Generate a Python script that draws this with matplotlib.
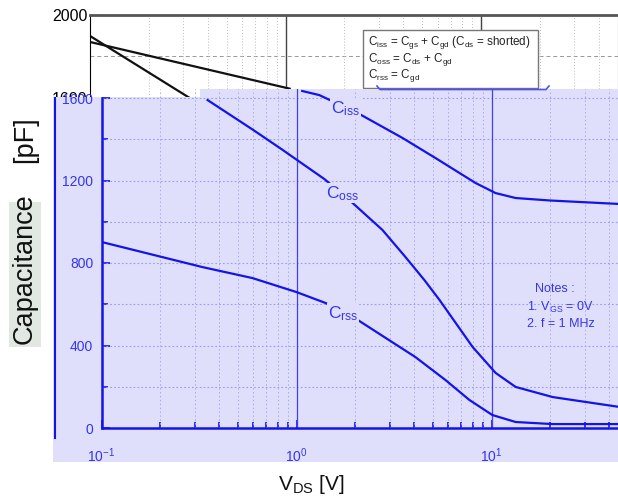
import numpy as np
import matplotlib
matplotlib.use("Agg")
import matplotlib.pyplot as plt
from matplotlib.patches import Rectangle
from matplotlib.lines import Line2D

plt.rcParams['font.family'] = ['Liberation Sans', 'DejaVu Sans']
plt.rcParams['mathtext.fontset'] = 'custom'
plt.rcParams['mathtext.rm'] = 'Liberation Sans'
plt.rcParams['mathtext.it'] = 'Liberation Sans'
plt.rcParams['mathtext.default'] = 'regular'

# black (original) part of the chart, only the top strip is visible
black_v_iss = [0.1, 1.05]
black_iss = [1870, 1645]
black_v_oss = [0.1, 0.35]
black_oss = [1899, 1580]

# blue overlay curves (V_DS in V, capacitance in pF)
v_iss = [1.07, 1.31, 2.06, 3.5, 5.16, 8.28, 10.5, 13.3, 20, 45.7]
c_iss = [1634, 1614, 1527, 1406, 1309, 1188, 1139, 1115, 1103, 1086]
v_oss = [0.35, 0.6, 0.85, 1.04, 1.39, 1.94, 2.76, 3.62, 4.53, 5.41, 8.0, 10.5, 13.3, 20.6, 45.3]
c_oss = [1590, 1445, 1348, 1290, 1207, 1091, 960, 829, 717, 621, 393, 267, 199, 150, 102]
v_rss = [0.1, 0.33, 0.594, 1.0, 1.41, 2.06, 4.07, 5.8, 7.7, 10.1, 13.3, 20.6, 45]
c_rss = [902, 780, 727, 659, 606, 524, 344, 233, 136, 63, 29, 19, 19]

y_ticks = [0, 400, 800, 1200, 1600]
x_ticks = [0.1, 1, 10]
x_labels = ['$10^{-1}$', '$10^{0}$', '$10^{1}$']

BLUE = '#1414ea'
TXTBLUE = '#3535f0'
LAV = '#dfdffc'

W, H = 618, 499


def fbox(l, t, r, b):
    # pixel box (from top-left) -> figure fraction
    return [l / W, 1 - b / H, (r - l) / W, (b - t) / H]


def fpt(x, y):
    return x / W, 1 - y / H


fig = plt.figure(figsize=(W / 100, H / 100), dpi=100)

# ---- black chart underneath
axk = fig.add_axes(fbox(90, 15, 617.7, 430))
axk.set_xscale('log')
axk.set_xlim(0.1, 50)
axk.set_ylim(0, 2000)
for y in range(200, 2000, 200):
    axk.axhline(y, color='#999999', ls=(0, (4, 3)), lw=0.7)
for dec in [0.1, 1, 10]:
    for m in range(2, 10):
        if m * dec < 50:
            axk.axvline(m * dec, color='#bbbbbb', ls=(0, (1, 2)), lw=0.7)
axk.axvline(1, color='#444444', lw=1)
axk.axvline(10, color='#444444', lw=1)
axk.plot(black_v_iss, black_iss, color='#111111', lw=1.6)
axk.plot(black_v_oss, black_oss, color='#111111', lw=1.6)
axk.set_yticks([1600, 2000])
axk.set_yticklabels(['1600', '2000'], fontsize=11.5)
axk.set_xticks([])
axk.minorticks_off()
axk.tick_params(direction='in', length=4, pad=2)
axk.spines['top'].set_linewidth(2)
axk.spines['top'].set_color('#555555')
axk.spines['right'].set_color('#666666')

# formula box
fig.add_artist(Rectangle(fpt(363, 88), 175 / W, 58 / H, transform=fig.transFigure,
                         facecolor='white', edgecolor='#777777', lw=1, zorder=0.5))
legend_lines = ['C$_{iss}$ = C$_{gs}$ + C$_{gd}$ (C$_{ds}$ = shorted)',
                'C$_{oss}$ = C$_{ds}$ + C$_{gd}$',
                'C$_{rss}$ = C$_{gd}$']
for i, s in enumerate(legend_lines):
    fig.text(*fpt(368, 45 + 16.5 * i), s, fontsize=8.4, color='#222222', zorder=0.6)

# ---- lavender overlay
fig.add_artist(Rectangle(fpt(53, 462), (618 - 53) / W, (462 - 97) / H,
                         transform=fig.transFigure, facecolor=LAV, edgecolor='none', zorder=1))
fig.add_artist(Rectangle(fpt(200, 98), (618 - 200) / W, 9 / H,
                         transform=fig.transFigure, facecolor=LAV, edgecolor='none', zorder=1))

# ---- blue chart on top
axb = fig.add_axes(fbox(101.5, 89, 618, 428))
axb.set_zorder(2)
axb.patch.set_visible(False)
axb.set_xscale('log')
axb.set_xlim(0.1, 10 ** (-1 + (618 - 101.5) / 195))
axb.set_ylim(0, 400 * (428 - 89) / 82.5)
for y in range(200, 1800, 200):
    axb.axhline(y, color='#9a9af0', ls=(0, (1.5, 2)), lw=0.8)
for dec in [0.1, 1, 10]:
    for m in range(2, 10):
        axb.axvline(m * dec, color='#a8a8f2', ls=(0, (1.5, 2.5)), lw=0.7)
axb.axvline(1, color='#4040f2', lw=0.9)
axb.axvline(10, color='#4040f2', lw=0.9)
axb.plot(v_iss, c_iss, color=BLUE, lw=1.6)
axb.plot(v_oss, c_oss, color=BLUE, lw=1.6)
axb.plot(v_rss, c_rss, color=BLUE, lw=1.6)

axb.set_yticks(y_ticks)
axb.set_yticklabels([str(v) for v in y_ticks], fontsize=10, color=TXTBLUE)
axb.set_yticks(range(200, 1600, 400), minor=True)
axb.set_xticks(x_ticks)
axb.set_xticklabels(x_labels, fontsize=10, color=TXTBLUE)
axb.set_xticks([m * d for d in [0.1, 1, 10] for m in range(2, 10) if m * d < 45], minor=True)
axb.set_xticklabels([], minor=True)
axb.tick_params(which='both', direction='in', color=BLUE, width=1.2)
axb.tick_params(which='major', length=6)
axb.tick_params(which='minor', length=4)
axb.tick_params(axis='y', pad=6)
axb.tick_params(axis='x', pad=13)
for s in ['top', 'right']:
    axb.spines[s].set_visible(False)
for s in ['left', 'bottom']:
    axb.spines[s].set_color(BLUE)
    axb.spines[s].set_linewidth(1.8)
axb.spines['left'].set_bounds(0, 1600)

# bracket under the formula box and left border line
fig.add_artist(Line2D([377 / W, 380 / W, 546 / W, 549 / W],
                      [1 - 86 / H, 1 - 89.5 / H, 1 - 89.5 / H, 1 - 86 / H],
                      transform=fig.transFigure, color='#5050f0', lw=1.2, zorder=3))
fig.add_artist(Line2D([55 / W, 55 / W], [1 - 98 / H, 1 - 438 / H],
                      transform=fig.transFigure, color=BLUE, lw=1.5, zorder=3))

# curve labels
lab = dict(fontsize=12.5, color=TXTBLUE, va='baseline',
           bbox=dict(facecolor=LAV, edgecolor='none', pad=0.5))
fig.text(*fpt(331, 113), 'C$_{iss}$', **lab)
fig.text(*fpt(326, 198), 'C$_{oss}$', **lab)
fig.text(*fpt(328, 318), 'C$_{rss}$', **lab)

# notes
fig.text(*fpt(535, 292), 'Notes :', fontsize=9, color=TXTBLUE)
fig.text(*fpt(527, 311), '1. V$_{GS}$ = 0V', fontsize=9, color=TXTBLUE)
fig.text(*fpt(527, 327), '2. f = 1 MHz', fontsize=9, color=TXTBLUE)

# axis titles
fig.add_artist(Rectangle(fpt(9, 347), 32 / W, 145 / H, transform=fig.transFigure,
                         facecolor='#e1e8e1', edgecolor='none', zorder=2))
fig.text(*fpt(25, 269), 'Capacitance', rotation=90, fontsize=19.5,
         ha='center', va='center', color='#111111')
fig.text(*fpt(25, 140), '[pF]', rotation=90, fontsize=19.5,
         ha='center', va='center', color='#111111')
fig.text(*fpt(311, 490), 'V$_{DS}$ [V]', fontsize=15, ha='center', va='baseline',
         color='#111111')

fig.savefig('out.png', dpi=100)
